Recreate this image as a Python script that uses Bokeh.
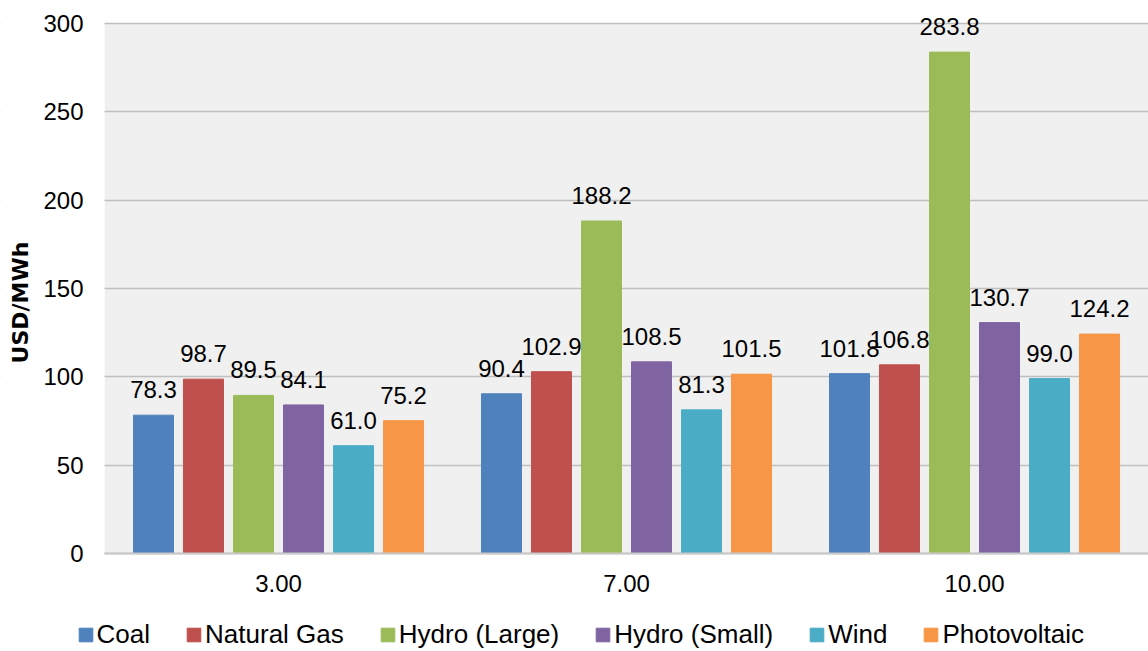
import math
from bokeh.plotting import figure
from bokeh.models import (ColumnDataSource, Range1d, LabelSet, Label, BoxAnnotation,
                          Legend, LegendItem, FixedTicker)
from bokeh.core.properties import value
from bokeh.transform import dodge
from bokeh.embed import file_html
from bokeh.resources import INLINE

# Levelized cost by discount rate (USD/MWh)
groups = ["3.00", "7.00", "10.00"]
series = ["Coal", "Natural Gas", "Hydro (Large)", "Hydro (Small)", "Wind", "Photovoltaic"]
coal = [78.3, 90.4, 101.8]
natural_gas = [98.7, 102.9, 106.8]
hydro_large = [89.5, 188.2, 283.8]
hydro_small = [84.1, 108.5, 130.7]
wind = [61.0, 81.3, 99.0]
photovoltaic = [75.2, 101.5, 124.2]
y_ticks = [0, 50, 100, 150, 200, 250, 300]

values = [coal, natural_gas, hydro_large, hydro_small, wind, photovoltaic]
colors = ["#4F81BD", "#C0504D", "#9BBB59", "#8064A2", "#4BACC6", "#F79646"]

FONT = "Liberation Sans"
W, H = 1148, 651

# Layout of the plotting area inside the canvas (pixels)
area_left, area_top, area_bottom = 104, 23, 553
y_max = y_ticks[-1]
px_per_y = (area_bottom - area_top) / y_max
px_per_group = (W - area_left) / len(groups)

# The frame fills the whole canvas; the axes sit at fixed data locations
p = figure(width=W, height=H,
           x_range=Range1d(-area_left / px_per_group, len(groups)),
           y_range=Range1d(-(H - area_bottom) / px_per_y, y_max + area_top / px_per_y),
           output_backend="svg", toolbar_location=None,
           min_border_left=0, min_border_right=0, min_border_top=0, min_border_bottom=0)
p.background_fill_color = "white"
p.border_fill_color = "white"
p.outline_line_color = None

# grey plotting area
p.add_layout(BoxAnnotation(left=0, bottom=0, top=y_max, fill_color="#F0F0F0",
                           fill_alpha=1, line_color=None, level="image"))

p.xgrid.grid_line_color = None
p.ygrid.ticker = FixedTicker(ticks=y_ticks)
p.ygrid.grid_line_color = "#BFBFBF"
p.ygrid.grid_line_width = 1.3
# keep the gridlines out of the tick-label margin
p.add_layout(BoxAnnotation(right=0, fill_color="white", fill_alpha=1,
                           line_color=None, level="underlay"))

centers = [i + 0.5 for i in range(len(groups))]

p.yaxis.fixed_location = 0
p.yaxis.bounds = (0, y_max)
p.yaxis.ticker = FixedTicker(ticks=y_ticks)
p.yaxis.axis_line_color = None
p.yaxis.major_tick_line_color = None
p.yaxis.minor_tick_line_color = None
p.yaxis.major_tick_out = 0
p.yaxis.major_tick_in = 0
p.yaxis.major_label_standoff = 21
p.yaxis.major_label_text_font = FONT
p.yaxis.major_label_text_font_size = "24px"
p.yaxis.major_label_text_color = "black"

p.xaxis.fixed_location = 0
p.xaxis.bounds = (0, len(groups))
p.xaxis.ticker = FixedTicker(ticks=centers)
p.xaxis.major_label_overrides = {c: g for c, g in zip(centers, groups)}
p.xaxis.axis_line_color = "#C8C8C8"
p.xaxis.axis_line_width = 2
p.xaxis.major_tick_line_color = None
p.xaxis.minor_tick_line_color = None
p.xaxis.major_tick_out = 0
p.xaxis.major_tick_in = 0
p.xaxis.major_label_standoff = 21
p.xaxis.major_label_text_font = FONT
p.xaxis.major_label_text_font_size = "24px"
p.xaxis.major_label_text_color = "black"

p.add_layout(Label(x=20, y=H - 302, x_units="screen", y_units="screen",
                   text="USD/MWh", angle=math.pi / 2,
                   text_align="center", text_baseline="middle",
                   text_font="DejaVu Sans", text_font_style="bold",
                   text_font_size="22px", text_color="black"))

bar_width = 0.115
step = 0.1437
items = []
for i, (name, vals, color) in enumerate(zip(series, values, colors)):
    offset = (i - 2.5) * step
    src = ColumnDataSource(dict(x=centers, y=vals, label=[f"{v:.1f}" for v in vals]))
    r = p.vbar(x=dodge("x", offset), top="y", width=bar_width,
               source=src, fill_color=color, line_color=color)
    p.add_layout(LabelSet(x=dodge("x", offset), y="y", text="label",
                          source=src, text_align="center", text_baseline="alphabetic",
                          y_offset=17, text_font=value(FONT), text_font_size="24px",
                          text_color="black"))
    items.append(LegendItem(label=name, renderers=[r]))

legend = Legend(items=items, orientation="horizontal", location=(76.6, 1),
                padding=0, margin=0, spacing=35, label_standoff=3,
                glyph_width=17, glyph_height=17,
                label_text_font=FONT, label_text_font_size="26px",
                label_text_color="black",
                border_line_color=None, background_fill_alpha=0)
p.add_layout(legend, "center")

open("out.html", "w").write(file_html(p, INLINE))
